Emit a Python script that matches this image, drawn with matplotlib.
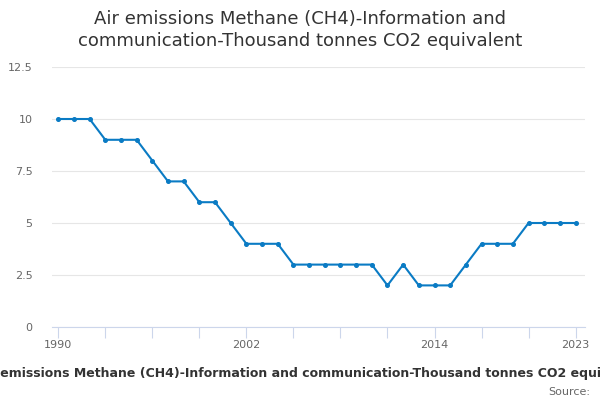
import matplotlib
matplotlib.use('Agg')
import matplotlib.pyplot as plt
import numpy as np

# Values
years = list(range(1990, 2024))
emissions = [10, 10, 10, 9, 9, 9, 8, 7, 7, 6, 6, 5, 4, 4, 4, 3, 3, 3, 3, 3, 3,
             2, 3, 2, 2, 2, 3, 4, 4, 4, 5, 5, 5, 5]
y_ticks = [0, 2.5, 5, 7.5, 10, 12.5]
y_tick_labels = ['0', '2.5', '5', '7.5', '10', '12.5']
x_tick_years = list(range(1990, 2024, 3))
x_label_years = [1990, 2002, 2014, 2023]

title = 'Air emissions Methane (CH4)-Information and\ncommunication-Thousand tonnes CO2 equivalent'
axis_title = 'Air emissions Methane (CH4)-Information and communication-Thousand tonnes CO2 equivalent'

plt.rcParams['font.family'] = ['DejaVu Sans']

fig = plt.figure(figsize=(6, 4), dpi=100)
ax = fig.add_axes([52 / 600, 1 - 327 / 400, (585 - 52) / 600, (327 - 67) / 400])

ax.plot(years, emissions, color='#0a7bc4', linewidth=1.5, marker='o', markersize=2.6,
        zorder=3, clip_on=False)

ax.set_ylim(0, 12.5)
ax.set_xlim(1989.6, 2023.6)
ax.set_yticks(y_ticks)
ax.set_yticklabels(y_tick_labels)
ax.yaxis.grid(True, color='#e6e6e6', linewidth=0.8)
ax.set_axisbelow(True)
ax.tick_params(axis='y', length=0, labelsize=8, labelcolor='#666666', pad=14)

# ticks every 3 years, labels only at selected years
ax.set_xticks(x_tick_years)
ax.set_xticklabels([str(y) if y in x_label_years else '' for y in x_tick_years])
ax.tick_params(axis='x', length=8, width=0.8, color='#ccd6eb',
               labelsize=8, labelcolor='#666666', pad=1)

for side in ['top', 'right', 'left']:
    ax.spines[side].set_visible(False)
ax.spines['bottom'].set_color('#ccd6eb')
ax.spines['bottom'].set_linewidth(0.8)

fig.text(0.5, 1 - 30 / 400, title, ha='center', va='center', fontsize=13,
         color='#333333', linespacing=1.25)
fig.text(311 / 600, 1 - 373 / 400, axis_title, ha='center', va='center',
         fontsize=9, fontweight='bold', color='#333333')
fig.text(590 / 600, 1 - 392 / 400, 'Source:', ha='right', va='center',
         fontsize=8, color='#666666')

fig.savefig('out.png', dpi=100)
